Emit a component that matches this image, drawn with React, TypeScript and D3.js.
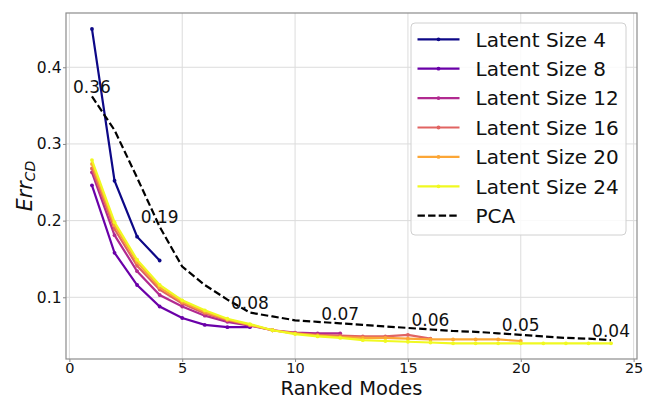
import { useEffect, useRef } from "react"
import * as d3 from "d3"

// ranked modes 1..N for each latent size
const latentSizes = [4, 8, 12, 16, 20, 24]
const seriesColors = ["#0d0887", "#6a00a8", "#b12a90", "#e16462", "#fca636", "#f0f921"]

const size4 = [0.45, 0.252, 0.179, 0.148]
const size8 = [0.246, 0.158, 0.116, 0.088, 0.073, 0.064, 0.061, 0.061]
const size12 = [0.263, 0.181, 0.134, 0.103, 0.088, 0.076, 0.068, 0.063, 0.057, 0.054, 0.053, 0.053]
const size16 = [
  0.268, 0.189, 0.141, 0.11, 0.092, 0.079, 0.07, 0.064, 0.057, 0.053, 0.051, 0.05, 0.049, 0.049, 0.051, 0.046,
]
const size20 = [
  0.274, 0.194, 0.146, 0.113, 0.094, 0.081, 0.071, 0.064, 0.057, 0.053, 0.05, 0.048, 0.047, 0.047, 0.046, 0.045,
  0.045, 0.045, 0.045, 0.043,
]
const size24 = [
  0.279, 0.198, 0.149, 0.116, 0.096, 0.083, 0.072, 0.065, 0.057, 0.052, 0.049, 0.047, 0.044, 0.043, 0.042, 0.041,
  0.04, 0.04, 0.04, 0.04, 0.04, 0.04, 0.04, 0.04,
]
const pca = [
  0.362, 0.318, 0.256, 0.192, 0.14, 0.116, 0.097, 0.08, 0.075, 0.07, 0.068, 0.066, 0.064, 0.062, 0.06, 0.058,
  0.056, 0.055, 0.053, 0.051, 0.049, 0.047, 0.046, 0.044,
]
// modes where the PCA value is written on the chart
const pcaLabelModes = [1, 4, 8, 12, 16, 20, 24]

const xTicks = [0, 5, 10, 15, 20, 25]
const yTicks = [0.1, 0.2, 0.3, 0.4]

type Pt = { mode: number; value: number }

const toPoints = (vals: number[]): Pt[] => vals.map((v, i) => ({ mode: i + 1, value: v }))

export default function App() {
  const svgRef = useRef<SVGSVGElement | null>(null)

  useEffect(() => {
    if (!svgRef.current) return

    const width = 652
    const height = 400
    const margin = { top: 13, right: 15, bottom: 41, left: 66 }
    const font = "DejaVu Sans, sans-serif"

    const svg = d3.select(svgRef.current).attr("width", width).attr("height", height)
    svg.selectAll("*").remove()

    const x = d3.scaleLinear().domain([-0.15, 25.15]).range([margin.left, width - margin.right])
    const y = d3.scaleLinear().domain([0.0195, 0.4708]).range([height - margin.bottom, margin.top])

    const allSeries = [size4, size8, size12, size16, size20, size24]

    // grid
    const grid = svg.append("g").attr("stroke", "#dcdcdc").attr("stroke-width", 1)
    xTicks.forEach(t => {
      grid.append("line").attr("x1", x(t)).attr("x2", x(t)).attr("y1", y.range()[0]).attr("y2", y.range()[1])
    })
    yTicks.forEach(t => {
      grid.append("line").attr("x1", x.range()[0]).attr("x2", x.range()[1]).attr("y1", y(t)).attr("y2", y(t))
    })

    // x axis
    const xAxis = svg
      .append("g")
      .attr("transform", `translate(0, ${height - margin.bottom})`)
      .call(d3.axisBottom(x).tickValues(xTicks).tickSize(3).tickPadding(0.5).tickFormat(d3.format("d")))
    xAxis.select(".domain").remove()
    xAxis.selectAll("line").attr("stroke", "#888")
    xAxis.selectAll("text").attr("font-family", font).attr("font-size", 14.5).attr("fill", "#111")

    // y axis
    const yAxis = svg
      .append("g")
      .attr("transform", `translate(${margin.left}, 0)`)
      .call(d3.axisLeft(y).tickValues(yTicks).tickSize(3).tickPadding(1.5).tickFormat(d3.format(".1f")))
    yAxis.select(".domain").remove()
    yAxis.selectAll("line").attr("stroke", "#888")
    yAxis.selectAll("text").attr("font-family", font).attr("font-size", 15.5).attr("fill", "#111")

    // frame
    svg
      .append("rect")
      .attr("x", x.range()[0])
      .attr("y", y.range()[1])
      .attr("width", x.range()[1] - x.range()[0])
      .attr("height", y.range()[0] - y.range()[1])
      .attr("fill", "none")
      .attr("stroke", "#8c8c8c")
      .attr("stroke-width", 1.2)

    const line = d3
      .line<Pt>()
      .x(d => x(d.mode))
      .y(d => y(d.value))

    // latent size curves
    allSeries.forEach((vals, i) => {
      const pts = toPoints(vals)
      const g = svg.append("g")
      g.append("path")
        .datum(pts)
        .attr("fill", "none")
        .attr("stroke", seriesColors[i])
        .attr("stroke-width", 2.2)
        .attr("d", line)
      g.selectAll("circle")
        .data(pts)
        .join("circle")
        .attr("cx", d => x(d.mode))
        .attr("cy", d => y(d.value))
        .attr("r", 1.9)
        .attr("fill", seriesColors[i])
    })

    // PCA
    const pcaPts = toPoints(pca)
    svg
      .append("path")
      .datum(pcaPts)
      .attr("fill", "none")
      .attr("stroke", "#000")
      .attr("stroke-width", 2.2)
      .attr("stroke-dasharray", "7.4,3.2")
      .attr("d", line)

    const labelled = pcaPts.filter(d => pcaLabelModes.includes(d.mode))
    svg
      .append("g")
      .selectAll("text")
      .data(labelled)
      .join("text")
      .attr("x", d => x(d.mode))
      .attr("y", d => y(d.value) - 3.5)
      .attr("text-anchor", "middle")
      .attr("font-family", font)
      .attr("font-size", 17)
      .attr("fill", "#111")
      .text(d => d.value.toFixed(2))

    // axis titles
    svg
      .append("text")
      .attr("x", (x.range()[0] + x.range()[1]) / 2)
      .attr("y", 395)
      .attr("text-anchor", "middle")
      .attr("font-family", font)
      .attr("font-size", 19.5)
      .attr("fill", "#111")
      .text("Ranked Modes")

    const yl = svg
      .append("text")
      .attr("transform", `translate(31.5, ${(y.range()[0] + y.range()[1]) / 2}) rotate(-90)`)
      .attr("text-anchor", "middle")
      .attr("font-family", font)
      .attr("font-size", 20.5)
      .attr("font-style", "italic")
      .attr("fill", "#111")
    yl.append("tspan").text("Err")
    yl.append("tspan").attr("font-size", 14).attr("dy", 3).text("CD")

    // legend
    const legend = svg.append("g").attr("transform", "translate(411, 23)")
    legend
      .append("rect")
      .attr("width", 215)
      .attr("height", 212)
      .attr("rx", 4)
      .attr("fill", "#fff")
      .attr("fill-opacity", 0.85)
      .attr("stroke", "#d0d0d0")
      .attr("stroke-width", 1)

    const legendItems = [
      ...latentSizes.map((s, i) => ({ label: `Latent Size ${s}`, color: seriesColors[i], dashed: false })),
      { label: "PCA", color: "#000", dashed: true },
    ]
    legendItems.forEach((item, i) => {
      const cy = 16.3 + i * 29.4
      const row = legend.append("g").attr("transform", `translate(0, ${cy})`)
      row
        .append("line")
        .attr("x1", 6.5)
        .attr("x2", 48.5)
        .attr("stroke", item.color)
        .attr("stroke-width", 2.2)
        .attr("stroke-dasharray", item.dashed ? "7.4,3.2" : null)
      if (!item.dashed) {
        row.append("circle").attr("cx", 27.5).attr("r", 1.9).attr("fill", item.color)
      }
      row
        .append("text")
        .attr("x", 64.5)
        .attr("y", 7.3)
        .attr("font-family", font)
        .attr("font-size", 20)
        .attr("fill", "#111")
        .text(item.label)
    })
  }, [])

  return (
    <div style={{ position: "absolute", left: 0, top: 0 }}>
      <svg ref={svgRef} style={{ display: "block" }} />
    </div>
  )
}
